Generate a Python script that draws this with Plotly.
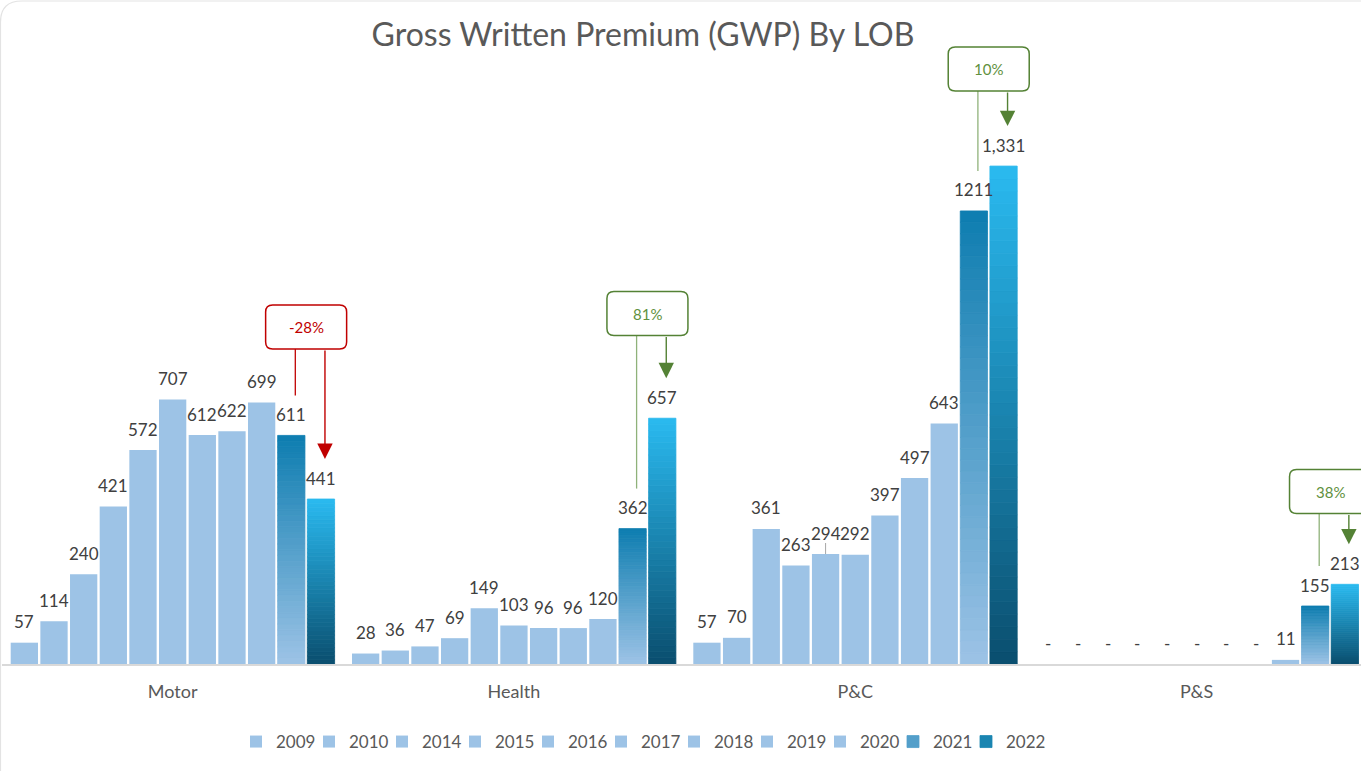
import plotly.graph_objects as go

# ---------------- data ----------------
categories = ["Motor", "Health", "P&C", "P&S"]
years = ["2009", "2010", "2014", "2015", "2016", "2017", "2018", "2019", "2020", "2021", "2022"]
v2009 = [57, 28, 57, 0]
v2010 = [114, 36, 70, 0]
v2014 = [240, 47, 361, 0]
v2015 = [421, 69, 263, 0]
v2016 = [572, 149, 294, 0]
v2017 = [707, 103, 292, 0]
v2018 = [612, 96, 397, 0]
v2019 = [622, 96, 497, 0]
v2020 = [699, 120, 643, 11]
v2021 = [611, 362, 1211, 155]
v2022 = [441, 657, 1331, 213]
change_labels = ["-28%", "81%", "10%", "38%"]

series = [v2009, v2010, v2014, v2015, v2016, v2017, v2018, v2019, v2020, v2021, v2022]

# ---------------- layout constants ----------------
W, H = 1361, 771
ML, MR, MT, MB = 2, 0, 40, 107
PW = W - ML - MR
PH = H - MT - MB
CAT_PX = 341.3
YMAX = 1668
BARGAP = 0.044
GROUPGAP = 0.08
NS = len(years)
SLOT = (1 - BARGAP) / NS
U_PER_PX_Y = YMAX / PH
U_PER_PX_X = 1 / CAT_PX

FONT = "Lato"
LIGHT = "#9dc3e6"
LABEL_COLOR = "#404040"
CLEAR = "rgba(0,0,0,0)"

x = list(range(len(categories)))


def fmt(v, comma=True):
    if v == 0:
        return "-"
    return f"{v:,}" if comma else f"{v}"


def hex2rgb(h):
    h = h.lstrip("#")
    return tuple(int(h[i:i + 2], 16) for i in (0, 2, 4))


def mix(c1, c2, t):
    a, b = hex2rgb(c1), hex2rgb(c2)
    return "rgb(%d,%d,%d)" % tuple(round(a[i] + (b[i] - a[i]) * t) for i in range(3))


gradients = {
    "2021": ("#9dc3e6", "#0d7db0"),  # bottom, top
    "2022": ("#0a4e6e", "#2abaf0"),
}
NSEG = 40

annotations = []
shapes = []
fig = go.Figure()
for si, (yr, vals) in enumerate(zip(years, series)):
    comma = yr != "2021"
    xoff = (si - (NS - 1) / 2) * SLOT
    for c, v in zip(x, vals):
        annotations.append(dict(x=c + xoff, y=v, xref="x", yref="y",
                                text=fmt(v, comma), showarrow=False,
                                yanchor="middle", yshift=21,
                                font=dict(size=17, color=LABEL_COLOR, family=FONT)))
    if yr not in gradients:
        fig.add_trace(go.Bar(
            x=x, y=vals, name=yr, offsetgroup=yr,
            marker=dict(color=LIGHT, line=dict(width=0)),
            hoverinfo="skip",
        ))
    else:
        bot, top = gradients[yr]
        for k in range(NSEG):
            t = (k + 0.5) / NSEG
            col = mix(bot, top, t)
            fig.add_trace(go.Bar(
                x=x, y=[v / NSEG for v in vals], name=yr, offsetgroup=yr,
                legendgroup=yr, showlegend=(k == NSEG // 2),
                marker=dict(color=col, line=dict(width=0.8, color=col)),
                hoverinfo="skip",
            ))

# invisible spacer legend entry (keeps last legend label from clipping)
fig.add_trace(go.Bar(x=[None], y=[None], name=" ", offsetgroup="2022",
                     marker=dict(color=CLEAR, line=dict(width=0, color=CLEAR)),
                     hoverinfo="skip"))

# small leader line for the P&C 2016 label
i16 = years.index("2016")
x16 = 2 + (i16 - (NS - 1) / 2) * SLOT
shapes.append(dict(type="line", xref="x", yref="y", x0=x16, x1=x16,
                   y0=v2016[2], y1=v2016[2] + 11 * U_PER_PX_Y,
                   line=dict(color="#a6a6a6", width=1)))

# ---------------- change call-outs ----------------
box_center_px = [327, 313.5, 69, 491.5]   # pixel rows of callout boxes
BOX_W, BOX_H, BOX_R = 81, 44, 7
GAP_PX = 40
colors = []
for lbl in change_labels:
    colors.append(("#c00000", "#c00000", "#c00000") if lbl.startswith("-")
                  else ("#548235", "#5f9140", "#8fb27a"))


def rr_path(w, h, r):
    a, b = w / 2, h / 2
    return (f"M {-a + r},{-b} L {a - r},{-b} Q {a},{-b} {a},{-b + r} "
            f"L {a},{b - r} Q {a},{b} {a - r},{b} L {-a + r},{b} "
            f"Q {-a},{b} {-a},{b - r} L {-a},{-b + r} Q {-a},{-b} {-a + r},{-b} Z")


for i, c in enumerate(x):
    x21 = c + (9 - (NS - 1) / 2) * SLOT
    x22 = c + (10 - (NS - 1) / 2) * SLOT
    xm = (x21 + x22) / 2
    yc = (MT + PH - box_center_px[i]) * U_PER_PX_Y
    ybot = yc - BOX_H / 2 * U_PER_PX_Y
    dx = 4 * U_PER_PX_X
    border, txt, thin = colors[i]
    shapes.append(dict(type="line", xref="x", yref="y",
                       x0=x21 + dx, x1=x21 + dx, y0=ybot,
                       y1=v2021[i] + GAP_PX * U_PER_PX_Y,
                       line=dict(color=thin, width=1.3)))
    shapes.append(dict(type="path", xref="x", yref="y",
                       xsizemode="pixel", ysizemode="pixel",
                       xanchor=xm, yanchor=yc, path=rr_path(BOX_W, BOX_H, BOX_R),
                       fillcolor="white", line=dict(color=border, width=1.5)))
    annotations.append(dict(x=xm, y=yc, xref="x", yref="y", text=change_labels[i],
                            showarrow=False, font=dict(size=15, color=txt, family=FONT)))
    annotations.append(dict(x=x22 + dx, y=v2022[i], xref="x", yref="y",
                            ax=x22 + dx, ay=ybot, axref="x", ayref="y",
                            text="", showarrow=True, arrowhead=2, arrowsize=2.2,
                            arrowwidth=1.4, arrowcolor=border,
                            standoff=GAP_PX))


def px2paper(px, py):
    return ((px - ML) / PW, (MT + PH - py) / PH)


p0 = px2paper(0.5, H)
p1 = px2paper(0.5, 22)
pc = px2paper(0.5, 1)
p2 = px2paper(22, 1)
p3 = px2paper(W, 1)
shapes.append(dict(type="path", xref="paper", yref="paper",
                   path=f"M {p0[0]},{p0[1]} L {p1[0]},{p1[1]} Q {pc[0]},{pc[1]} {p2[0]},{p2[1]} L {p3[0]},{p3[1]}",
                   line=dict(color="#e3e3e3", width=1.2)))

fig.update_layout(
    width=W, height=H,
    margin=dict(l=ML, r=MR, t=MT, b=MB),
    paper_bgcolor="white", plot_bgcolor="white",
    barmode="relative", bargap=BARGAP, bargroupgap=GROUPGAP,
    font=dict(family=FONT, color="#595959"),
    title=dict(text="Gross Written Premium (GWP) By LOB",
               x=(643 - ML) / PW, xref="paper", xanchor="center",
               y=1 - 35 / H, yref="container", yanchor="middle",
               font=dict(size=32, color="#595959", family=FONT)),
    xaxis=dict(range=[-0.5, -0.5 + PW / CAT_PX], tickvals=x, ticktext=categories,
               showgrid=False, zeroline=False, showline=True, linecolor="#d9d9d9",
               linewidth=2, ticks="", ticklabelstandoff=10,
               tickfont=dict(size=18, color="#595959", family=FONT)),
    yaxis=dict(range=[0, YMAX], visible=False, showgrid=False, zeroline=False),
    legend=dict(orientation="h", x=(674 - ML) / PW, xanchor="center",
                y=(MT + PH - 742) / PH, yanchor="middle",
                font=dict(size=17, color="#595959", family=FONT),
                entrywidth=28, entrywidthmode="pixels", itemwidth=30,
                traceorder="normal"),
    shapes=shapes, annotations=annotations,
    showlegend=True,
)

fig.write_html("out.html", config={"displayModeBar": False},
               post_script="document.body.style.margin='0px';")
